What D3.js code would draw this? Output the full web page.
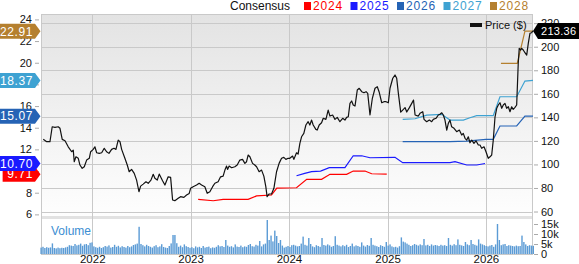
<!DOCTYPE html>
<html><head><meta charset="utf-8">
<script src="https://cdnjs.cloudflare.com/ajax/libs/d3/7.8.5/d3.min.js"></script>
<style>
html,body{margin:0;padding:0;background:#fff;}
svg{display:block;font-family:Arial,"Liberation Sans",sans-serif;}
</style></head>
<body><svg id="c" width="579" height="264"></svg>
<script>
// ---------- DATA ----------
const priceDates = [2021.502,2021.537,2021.570,2021.593,2021.621,2021.654,2021.672,2021.695,2021.723,2021.756,2021.791,2021.807,2021.817,2021.834,2021.858,2021.875,2021.898,2021.919,2021.943,2021.970,2021.984,2022.010,2022.027,2022.045,2022.071,2022.096,2022.122,2022.146,2022.170,2022.197,2022.221,2022.241,2022.264,2022.282,2022.299,2022.332,2022.356,2022.376,2022.400,2022.427,2022.451,2022.475,2022.492,2022.518,2022.546,2022.569,2022.597,2022.620,2022.637,2022.661,2022.681,2022.715,2022.739,2022.772,2022.797,2022.817,2022.840,2022.874,2022.898,2022.932,2022.959,2022.986,2023.000,2023.026,2023.061,2023.087,2023.112,2023.145,2023.169,2023.196,2023.224,2023.247,2023.280,2023.305,2023.331,2023.349,2023.366,2023.376,2023.392,2023.417,2023.450,2023.474,2023.501,2023.528,2023.552,2023.569,2023.585,2023.603,2023.630,2023.653,2023.671,2023.697,2023.722,2023.745,2023.765,2023.778,2023.799,2023.823,2023.847,2023.874,2023.900,2023.925,2023.948,2023.969,2023.992,2024.009,2024.037,2024.050,2024.077,2024.093,2024.111,2024.128,2024.151,2024.172,2024.195,2024.212,2024.230,2024.246,2024.273,2024.287,2024.307,2024.331,2024.348,2024.375,2024.398,2024.416,2024.443,2024.467,2024.490,2024.517,2024.545,2024.568,2024.585,2024.602,2024.619,2024.636,2024.652,2024.670,2024.693,2024.713,2024.738,2024.761,2024.782,2024.799,2024.822,2024.846,2024.873,2024.896,2024.914,2024.941,2024.964,2024.985,2025.008,2025.025,2025.053,2025.076,2025.093,2025.110,2025.134,2025.154,2025.178,2025.195,2025.222,2025.246,2025.264,2025.280,2025.313,2025.330,2025.358,2025.371,2025.398,2025.425,2025.449,2025.465,2025.493,2025.516,2025.534,2025.551,2025.567,2025.584,2025.602,2025.618,2025.635,2025.652,2025.676,2025.703,2025.730,2025.754,2025.770,2025.788,2025.805,2025.821,2025.838,2025.856,2025.879,2025.899,2025.923,2025.940,2025.957,2025.981,2026.001,2026.024,2026.042,2026.059,2026.075,2026.093,2026.110,2026.126,2026.143,2026.161,2026.177,2026.194,2026.211,2026.228,2026.245,2026.262,2026.278,2026.296,2026.313,2026.329,2026.339,2026.354,2026.364,2026.380,2026.397,2026.415,2026.431,2026.448,2026.465,2026.479];
const priceValues = [121.3,119.3,119.3,132.0,131.5,132.0,130.7,121.3,120.1,115.0,110.8,112.2,102.3,106.5,105.2,99.5,96.7,98.0,103.7,105.2,110.8,112.8,115.0,109.9,109.4,109.9,113.7,110.8,109.4,112.8,113.7,112.8,120.7,119.3,112.8,105.2,99.5,93.8,95.8,92.4,86.7,76.8,81.6,83.3,85.3,84.0,86.7,91.6,88.2,86.7,91.8,86.1,82.5,89.5,89.0,69.8,69.2,71.2,72.6,72.0,74.0,75.4,79.7,81.1,82.5,84.0,82.5,81.1,75.5,76.8,81.1,84.0,85.3,89.5,90.1,95.2,98.6,95.8,98.6,97.2,98.0,99.5,103.7,104.3,100.9,102.3,108.0,106.5,100.9,99.5,98.0,93.8,95.2,90.1,81.1,72.6,74.9,74.9,79.7,93.8,100.9,105.2,106.0,104.3,105.2,105.2,107.1,104.3,109.9,108.8,117.9,123.5,126.4,133.5,136.3,133.5,137.7,133.5,129.8,129.2,133.5,135.4,139.2,138.3,146.2,141.1,142.0,138.3,140.0,136.3,139.2,137.7,140.0,140.5,151.9,153.9,150.5,149.6,163.2,164.7,161.8,160.9,161.8,160.4,142.0,156.2,164.7,166.0,161.8,152.4,153.3,153.3,152.4,164.7,173.2,176.0,173.2,160.4,144.5,146.2,148.3,144.5,148.3,151.9,154.7,142.0,141.1,143.4,144.8,138.3,136.3,137.7,136.3,138.3,139.2,142.0,142.6,143.9,142.0,137.7,129.2,134.9,137.7,132.0,130.7,127.8,129.2,125.0,126.4,122.2,120.7,123.5,118.4,120.7,117.9,120.1,116.5,116.5,113.7,115.0,110.8,105.2,106.5,108.0,120.7,140.5,147.7,150.5,152.4,147.7,150.5,151.9,147.7,149.0,144.8,149.0,146.8,148.5,150.5,185.9,198.6,197.2,198.6,197.2,194.9,192.9,202.9,211.4,211.9,213.36];

const eps2024Dates = [2023.077,2023.230,2023.331,2023.585,2023.671,2023.823,2023.877,2024.077,2024.180,2024.331,2024.416,2024.585,2024.652,2024.771,2024.839,2024.992];
const eps2024Values = [7.39,7.26,7.39,7.39,7.70,7.79,8.42,8.46,9.24,9.24,9.70,9.70,10.00,10.00,9.75,9.71];
const eps2025Dates = [2024.077,2024.160,2024.230,2024.321,2024.409,2024.568,2024.652,2024.738,2024.822,2025.076,2025.154,2025.635,2025.686,2025.805,2025.907,2025.991];
const eps2025Values = [9.57,9.79,9.94,10.00,10.31,10.31,11.41,11.41,11.23,11.27,10.77,10.77,10.86,10.56,10.56,10.70];
const eps2026Dates = [2025.154,2025.635,2025.805,2026.001,2026.075,2026.143,2026.313,2026.397,2026.479];
const eps2026Values = [12.71,12.71,12.77,12.93,12.93,14.16,14.16,15.08,15.07];
const eps2027Dates = [2025.154,2025.280,2025.398,2025.551,2025.635,2025.771,2025.838,2025.906,2026.075,2026.143,2026.313,2026.397,2026.479];
const eps2027Values = [14.78,14.83,15.17,15.24,14.71,14.71,14.92,15.11,15.11,16.86,16.86,18.31,18.37];
const eps2028Dates = [2026.153,2026.319,2026.397,2026.479];
const eps2028Values = [19.95,19.95,22.93,22.91];

const seriesNames = ["2024","2025","2026","2027","2028"];
const seriesColors = ["#ff0000","#1a1aff","#2563b5","#3ea2d2","#b5802f"];
const lastEps = ["9.71","10.70","15.07","18.37","22.91"];
const lastPrice = "213.36";

// weekly volume (thousands), starting mid-2021
const volumeStart = 2021.48;
const volumeValues = [3.2,3.6,3.0,3.4,3.1,3.3,5.3,3.0,2.8,3.2,2.9,3.1,3.0,3.3,3.6,4.4,4.2,4.0,5.0,4.3,
4.6,5.2,4.1,4.8,5.0,4.4,5.6,5.8,3.8,3.4,3.1,3.6,3.0,3.4,4.0,3.7,4.3,3.2,3.5,4.6,
3.6,4.1,3.3,3.9,3.5,3.2,4.0,3.4,3.8,4.5,4.8,5.2,13.6,5.0,4.4,3.8,4.6,4.0,3.6,3.2,
3.9,4.4,3.4,3.8,4.9,3.5,3.2,3.0,4.0,5.3,9.5,9.5,5.4,3.6,4.2,3.4,4.8,3.9,3.5,3.1,
3.4,2.9,3.8,3.3,3.6,3.0,4.0,3.2,3.5,3.7,2.9,3.3,3.1,3.6,4.4,3.8,4.0,3.5,7.0,4.2,
3.6,3.9,3.3,4.8,3.7,3.5,4.2,3.4,3.8,3.6,4.5,5.0,3.9,3.7,4.6,4.2,6.5,3.8,4.8,5.2,
17.0,7.0,9.2,6.3,11.7,9.0,5.5,7.0,4.2,3.2,3.6,4.0,3.5,4.4,4.6,4.2,3.8,4.0,5.2,8.7,
4.6,4.2,8.0,5.0,3.8,3.4,4.4,4.0,3.6,8.0,4.5,4.2,4.8,4.3,3.6,4.0,8.9,4.6,4.2,3.8,
4.4,3.9,4.6,3.5,4.0,5.2,3.8,4.3,4.0,3.6,5.8,4.2,3.7,4.5,4.1,8.0,4.6,4.2,3.9,3.5,
4.4,4.0,3.6,6.0,4.2,4.8,3.8,3.4,3.6,3.2,3.9,8.3,6.2,5.8,5.2,4.6,4.0,4.4,5.0,4.6,
4.2,4.8,4.4,7.5,4.3,4.6,4.0,4.8,4.2,4.5,4.3,4.0,4.6,4.2,4.4,4.0,8.0,4.6,4.2,4.9,
4.4,7.3,4.6,4.3,4.0,6.0,4.8,4.4,7.0,5.0,4.6,4.2,7.3,5.2,4.8,4.4,4.0,3.8,4.2,4.5,
3.6,4.8,15.0,7.0,4.4,4.8,5.0,4.0,4.4,4.2,4.0,3.8,4.2,3.9,4.0,9.2,6.0,4.8,4.0,4.4,
4.2,4.1];

const epsTicks = [6,8,10,12,14,16,18,20,22,24];
const priceTicks = [60,80,100,120,140,160,180,200,220];
const volTicks = [0,5,10,15];
const yearTicks = [2022,2023,2024,2025,2026];

// ---------- HELPERS ----------
function yd(t){const y=Math.floor(t);const s=Date.UTC(y,0,1),e=Date.UTC(y+1,0,1);return new Date(s+(t-y)*(e-s));}

const L=41,R=533,T=14,PB=216,VT=219,VB=255;
const svg=d3.select("#c");
const x=d3.scaleUtc().domain([yd(2021.479),yd(2026.479)]).range([L,R]);
const yP=d3.scaleLinear().domain([56.2,227.8]).range([PB,T]);
const yE=d3.scaleLinear().domain([5.85,24.5]).range([PB,T]);
const yV=d3.scaleLinear().domain([0,15]).range([254,224]);

// background gradient
const defs=svg.append("defs");
const g=defs.append("linearGradient").attr("id","bg").attr("x1",0).attr("y1",0).attr("x2",0).attr("y2",1);
g.append("stop").attr("offset","0%").attr("stop-color","#e3e3e3");
g.append("stop").attr("offset","100%").attr("stop-color","#fefefe");
svg.append("rect").attr("x",L).attr("y",T).attr("width",R-L).attr("height",PB-T).attr("fill","url(#bg)");
svg.append("rect").attr("x",L).attr("y",PB).attr("width",R-L).attr("height",VT-PB).attr("fill","#e2e2e2");

// gridlines
const grid=svg.append("g").attr("stroke","#c9c9c9").attr("stroke-width",1).attr("shape-rendering","crispEdges");
priceTicks.forEach(p=>grid.append("line").attr("x1",L).attr("x2",R).attr("y1",Math.round(yP(p))+0.5).attr("y2",Math.round(yP(p))+0.5));
yearTicks.forEach(yr=>grid.append("line").attr("x1",Math.round(x(yd(yr)))+0.5).attr("x2",Math.round(x(yd(yr)))+0.5).attr("y1",T).attr("y2",VB));

// frame
svg.append("rect").attr("x",L+0.5).attr("y",T+0.5).attr("width",R-L-1).attr("height",VB-T-1)
  .attr("fill","none").attr("stroke","#c9c9c9").attr("shape-rendering","crispEdges");

// volume bars
const vol=volumeValues.map((v,i)=>({t:yd(volumeStart+i*7/365.25),v}));
svg.append("g").selectAll("rect").data(vol).join("rect")
  .attr("x",d=>x(d.t)-0.7).attr("width",1.4)
  .attr("y",d=>yV(d.v)).attr("height",d=>254-yV(d.v))
  .attr("fill","#5b9bd5");
svg.append("text").attr("x",51).attr("y",235).attr("fill","#3c8ed2").attr("font-size",12).text("Volume");

// EPS lines
const epsD=[eps2024Dates,eps2025Dates,eps2026Dates,eps2027Dates,eps2028Dates];
const epsV=[eps2024Values,eps2025Values,eps2026Values,eps2027Values,eps2028Values];
const lineE=d3.line().x(d=>x(yd(d[0]))).y(d=>yE(d[1]));
epsD.forEach((ds,k)=>{
  svg.append("path").datum(ds.map((t,i)=>[t,epsV[k][i]])).attr("d",lineE)
    .attr("fill","none").attr("stroke",seriesColors[k]).attr("stroke-width",1.2);
});

// price line
const lineP=d3.line().x(d=>x(yd(d[0]))).y(d=>yP(d[1]));
svg.append("path").datum(priceDates.map((t,i)=>[t,priceValues[i]])).attr("d",lineP)
  .attr("fill","none").attr("stroke","#111").attr("stroke-width",1.2).attr("stroke-linejoin","round");

// axes
const axL=svg.append("g").attr("transform","translate(39,0)")
  .call(d3.axisLeft(yE).tickValues(epsTicks).tickSize(4).tickPadding(3));
const axR=svg.append("g").attr("transform","translate(534,0)")
  .call(d3.axisRight(yP).tickValues(priceTicks).tickSize(4).tickPadding(3));
const axV=svg.append("g").attr("transform","translate(534,0)")
  .call(d3.axisRight(yV).tickValues(volTicks).tickSize(4).tickPadding(3).tickFormat(d=>d===0?"0":d+"k"));
const axX=svg.append("g").attr("transform",`translate(0,${VB})`)
  .call(d3.axisBottom(x).tickValues(yearTicks.map(yd)).tickSize(0).tickPadding(4).tickFormat(d3.utcFormat("%Y")));
[axL,axR,axV,axX].forEach(a=>{
  a.select(".domain").remove();
  a.selectAll("line").attr("stroke","#aaa");
  a.selectAll("text").attr("font-size",11).attr("fill","#111").attr("font-family","Arial,'Liberation Sans',sans-serif");
});
axX.selectAll("text").attr("font-size",11.5).attr("dy",null).attr("y",8);

// legend
svg.append("text").attr("x",230).attr("y",10).attr("font-size",12).attr("fill","#111").text("Consensus");
seriesNames.forEach((n,k)=>{
  const lx=304+k*46.5;
  svg.append("rect").attr("x",lx).attr("y",2).attr("width",7).attr("height",8).attr("fill",seriesColors[k]);
  svg.append("text").attr("x",lx+9).attr("y",10).attr("font-size",12).attr("letter-spacing",0.8)
    .attr("fill",seriesColors[k]).text(n);
});
svg.append("rect").attr("x",470).attr("y",23).attr("width",12).attr("height",4).attr("fill","#111");
svg.append("text").attr("x",485).attr("y",29).attr("font-size",11).attr("fill","#111").text("Price ($)");

// left EPS tags
function tagL(val,color,yy){
  const txt=svg.append("text").attr("font-size",12).attr("fill","#fff").attr("text-anchor","end")
    .attr("letter-spacing",0.6).text(val);
  const w=val.length*6.6+6;
  const xr=35, x0=xr-w, h=15;
  svg.insert("path",()=>txt.node()).attr("d",`M${x0},${yy-h/2}H${xr}L${xr+5.5},${yy}L${xr},${yy+h/2}H${x0}Z`).attr("fill",color);
  txt.attr("x",xr-2).attr("y",yy+4.3);
}
[0,1,2,3,4].forEach(k=>tagL(lastEps[k],seriesColors[k],yE(+lastEps[k])));

// right price tag
(function(){
  const yy=yP(+lastPrice);
  svg.append("path").attr("d",`M533,${yy}L538,${yy-8}H579V${yy+8}H538Z`).attr("fill","#000");
  svg.append("text").attr("x",541).attr("y",yy+4).attr("font-size",11).attr("letter-spacing",0.3).attr("fill","#fff").text(lastPrice);
})();
</script></body></html>
